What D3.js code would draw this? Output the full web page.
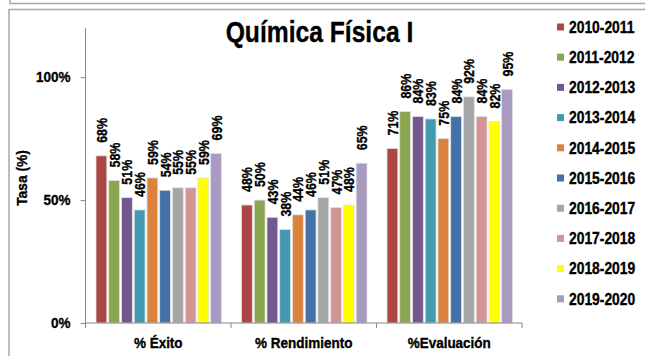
<!DOCTYPE html>
<html><head><meta charset="utf-8">
<script src="https://cdn.jsdelivr.net/npm/d3@7"></script>
<style>
html,body{margin:0;padding:0;background:#fff;}
svg{display:block;}
text{font-family:"Liberation Sans",Arial,sans-serif;font-weight:bold;fill:#000;stroke:#000;stroke-width:0.35px;}
</style></head>
<body>
<script>
const categories = ["% Éxito", "% Rendimiento", "%Evaluación"];
const seriesNames = ["2010-2011","2011-2012","2012-2013","2013-2014","2014-2015","2015-2016","2016-2017","2017-2018","2018-2019","2019-2020"];
const exito =       [68, 58, 51, 46, 59, 54, 55, 55, 59, 69];
const rendimiento = [48, 50, 43, 38, 44, 46, 51, 47, 48, 65];
const evaluacion =  [71, 86, 84, 83, 75, 84, 92, 84, 82, 95];
const colors = ["#AA4644","#8AA650","#72588F","#4399B0","#DB823D","#4472A8","#A5A5A5","#D49494","#FFFF00","#A99AC1"];
const yTicks = [0, 0.5, 1.0];
const title = "Química Física I";
const yTitle = "Tasa (%)";

const W = 645, H = 356;
const svg = d3.select("body").append("svg").attr("width", W).attr("height", H);

// frames
svg.append("path").attr("d", "M10,0V3.5H645").attr("fill","none").attr("stroke","#a8a8a8").attr("stroke-width",1.5);
svg.append("path").attr("d", "M9,356V9.5H645").attr("fill","none").attr("stroke","#a8a8a8").attr("stroke-width",1.5);

const plot = {left: 85.5, right: 522, top: 28, bottom: 323};
const y = d3.scaleLinear().domain([0, 1.2]).range([plot.bottom, plot.top]);
const x0 = d3.scaleBand().domain(categories).range([plot.left, plot.right]).paddingInner(0).paddingOuter(0);
const x1 = d3.scaleBand().domain(seriesNames).range([10.5, x0.bandwidth() - 9.5]).paddingInner(0.15).paddingOuter(0);

const seriesByCat = [exito, rendimiento, evaluacion];
const data = [];
categories.forEach((c, ci) => seriesNames.forEach((s, si) => data.push({c, s, si, v: seriesByCat[ci][si] / 100})));

// bars
svg.append("g").selectAll("rect").data(data).join("rect")
  .attr("x", d => x0(d.c) + x1(d.s))
  .attr("y", d => y(d.v))
  .attr("width", x1.bandwidth())
  .attr("height", d => y(0) - y(d.v))
  .attr("fill", d => colors[d.si])
  .attr("stroke", "#e2e2e2").attr("stroke-width", 0.8);

// y axis
const yAxis = svg.append("g").attr("transform", `translate(${plot.left},0)`)
  .call(d3.axisLeft(y).tickValues(yTicks).tickFormat(d3.format(".0%")).tickSize(5).tickPadding(10).tickSizeOuter(0));
yAxis.select(".domain").attr("stroke", "#888").attr("d", `M0,${plot.top}V${plot.bottom}`);
yAxis.selectAll(".tick line").attr("stroke", "#888");
yAxis.selectAll(".tick text").attr("font-size", 15).attr("font-family", null).attr("fill", "#000")
  .attr("x", null).attr("transform", "translate(-15,0) scale(0.9,1)");

// x axis
const xAxisG = svg.append("g").attr("transform", `translate(0,${plot.bottom})`);
xAxisG.append("line").attr("x1", plot.left).attr("x2", plot.right).attr("stroke", "#888");
const bounds = [plot.left].concat(categories.map(c => x0(c) + x0.bandwidth()));
xAxisG.selectAll("line.tk").data(bounds).join("line").attr("class","tk")
  .attr("x1", d => d).attr("x2", d => d).attr("y1", 0).attr("y2", 5).attr("stroke", "#888");
xAxisG.selectAll("text").data(categories).join("text")
  .attr("transform", d => `translate(${x0(d) + x0.bandwidth() / 2},25) scale(0.9,1)`)
  .attr("text-anchor", "middle").attr("font-size", 15).text(d => d);

// value labels
svg.append("g").selectAll("text").data(data).join("text")
  .attr("transform", d => `translate(${x0(d.c) + x1(d.s) + x1.bandwidth() / 2},${y(d.v) - 13}) rotate(-90) scale(0.8,1)`)
  .attr("dy", "0.35em").attr("text-anchor", "start").attr("font-size", 15.5)
  .text(d => Math.round(d.v * 100) + "%");

// title
svg.append("text").attr("transform", "translate(319.5,41.5) scale(0.85,1)")
  .attr("text-anchor", "middle").attr("font-size", 29).text(title);

// y title
svg.append("text").attr("transform", "translate(27,178) rotate(-90) scale(0.92,1)")
  .attr("text-anchor", "middle").attr("font-size", 15).text(yTitle);

// legend
const lg = svg.append("g").selectAll("g").data(seriesNames).join("g")
  .attr("transform", (d, i) => `translate(557,${27 + i * 30.2})`);
lg.append("rect").attr("x", 0).attr("y", -3.5).attr("width", 7).attr("height", 7).attr("fill", (d, i) => colors[i]);
lg.append("text").attr("transform", "translate(12,0) scale(0.85,1)")
  .attr("dy", "0.36em").attr("font-size", 16.3).text(d => d);
</script>
</body></html>
